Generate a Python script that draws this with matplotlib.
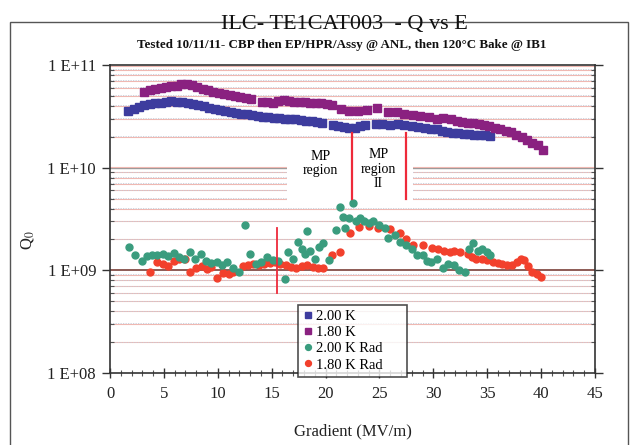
import matplotlib
matplotlib.use("Agg")
import matplotlib.pyplot as plt
from matplotlib.ticker import FixedLocator, MultipleLocator, NullFormatter
from matplotlib.patches import Rectangle
import numpy as np

# ---------------- data ----------------
E_200K = [1.7, 2.2, 2.7, 3.2, 3.7, 4.2, 4.7, 5.2, 5.7, 6.2, 6.7, 7.2, 7.7, 8.2, 8.7, 9.2, 9.7,
          10.2, 10.7, 11.2, 11.7, 12.2, 12.7, 13.2, 13.7, 14.2, 14.7, 15.2, 15.7, 16.2, 16.7,
          17.2, 17.7, 18.2, 18.7, 19.2, 19.7, 20.7, 21.2, 21.7, 22.2, 22.7, 23.2, 23.7, 24.7,
          25.2, 26.0, 26.7, 27.3, 28.0, 28.6, 29.2, 29.8, 30.3, 30.8, 31.3, 31.8, 32.3, 32.8,
          33.3, 33.8, 34.3, 34.8, 35.3]
Q_200K = [3.6, 3.75, 3.9, 4.05, 4.15, 4.25, 4.3, 4.38, 4.42, 4.4, 4.35, 4.25, 4.15, 4.05, 3.95,
          3.85, 3.75, 3.65, 3.55, 3.5, 3.42, 3.35, 3.3, 3.25, 3.2, 3.15, 3.1, 3.08, 3.05, 3.0,
          2.98, 2.95, 2.9, 2.88, 2.85, 2.8, 2.75, 2.6, 2.55, 2.5, 2.45, 2.45, 2.55, 2.6, 2.65,
          2.65, 2.62, 2.65, 2.6, 2.55, 2.5, 2.45, 2.4, 2.4, 2.3, 2.25, 2.2, 2.2, 2.15, 2.12,
          2.1, 2.1, 2.08, 2.05]  # x 1e10

E_180K = [3.2, 3.7, 4.2, 4.7, 5.2, 5.7, 6.2, 6.6, 7.1, 7.6, 8.1, 8.6, 9.1, 9.6, 10.1, 10.6,
          11.1, 11.6, 12.1, 12.6, 13.1, 14.1, 14.6, 15.1, 15.6, 16.1, 16.6, 17.1, 17.6, 18.1,
          18.6, 19.1, 19.6, 20.1, 20.6, 21.4, 22.2, 23.0, 23.8, 24.8, 25.8, 26.6, 27.3, 28.1,
          28.8, 29.6, 30.3, 30.9, 31.6, 32.2, 32.7, 33.2, 33.7, 34.2, 34.7, 35.2, 35.7, 36.2,
          36.7, 37.2, 37.7, 38.2, 38.7, 39.2, 39.7, 40.2]
Q_180K = [5.5, 5.65, 5.8, 5.95, 6.1, 6.2, 6.3, 6.6, 6.5, 6.35, 6.1, 5.9, 5.7, 5.5, 5.35, 5.2,
          5.05, 4.95, 4.85, 4.75, 4.65, 4.4, 4.4, 4.3, 4.45, 4.55, 4.5, 4.4, 4.35, 4.35, 4.3,
          4.3, 4.3, 4.2, 4.1, 3.75, 3.55, 3.6, 3.65, 3.8, 3.5, 3.45, 3.35, 3.25, 3.2, 3.1, 3.0,
          3.05, 2.95, 2.85, 2.8, 2.75, 2.72, 2.65, 2.6, 2.55, 2.45, 2.4, 2.3, 2.25, 2.1, 2.0,
          1.85, 1.75, 1.65, 1.5]  # x 1e10

E_200K_rad = [1.8, 2.3, 3.0, 3.4, 3.9, 4.4, 4.9, 5.4, 5.9, 6.4, 6.9, 7.4, 7.9, 8.4, 8.9, 9.4,
              9.9, 10.4, 10.9, 11.4, 12.0, 12.5, 13.0, 13.5, 14.0, 14.6, 15.1, 15.6, 16.2, 16.5,
              17.0, 17.4, 17.8, 18.1, 18.3, 18.6, 19.0, 19.4, 19.8, 20.3, 21.0, 21.3, 21.6, 21.8,
              22.2, 22.5, 22.8, 23.2, 23.6, 24.0, 24.4, 25.0, 25.5, 25.8, 26.4, 26.9, 27.5, 28.0,
              28.5, 29.0, 29.4, 29.8, 30.3, 30.9, 31.4, 31.9, 32.4, 32.9, 33.3, 33.7, 34.1, 34.5,
              35.0, 35.3]
Q_200K_rad = [1.69, 1.41, 1.24, 1.38, 1.42, 1.40, 1.45, 1.38, 1.48, 1.35, 1.30, 1.52, 1.30, 1.45,
              1.22, 1.18, 1.20, 1.12, 1.20, 1.05, 0.97, 2.75, 1.45, 1.15, 1.20, 1.35, 1.25, 1.22,
              0.82, 1.50, 1.30, 1.90, 1.60, 1.45, 2.40, 1.55, 1.30, 1.70, 1.85, 1.25, 2.45, 4.10,
              3.30, 2.60, 3.20, 4.55, 3.00, 3.20, 3.00, 2.90, 3.00, 2.75, 2.60, 2.07, 2.20, 1.90,
              1.75, 1.60, 1.42, 1.40, 1.22, 1.20, 1.30, 1.05, 1.15, 1.12, 1.00, 0.97, 1.60, 1.85,
              1.55, 1.60, 1.50, 1.40]  # x 1e9

E_180K_rad = [3.7, 4.4, 4.9, 5.4, 5.9, 6.4, 7.0, 7.4, 8.0, 8.5, 9.0, 9.4, 9.9, 10.5, 11.0, 11.4,
              12.3, 12.8, 13.3, 13.8, 14.3, 14.8, 15.3, 15.8, 16.3, 16.8, 17.3, 17.8, 18.3, 18.8,
              19.3, 19.8, 20.6, 21.3, 22.3, 23.1, 24.0, 24.9, 26.0, 26.9, 27.5, 28.1, 29.0, 29.9,
              30.4, 31.0, 31.5, 31.9, 32.5, 33.2, 33.6, 34.0, 34.5, 35.0, 35.5, 36.0, 36.4, 36.8,
              37.3, 37.8, 38.1, 38.4, 38.8, 39.2, 39.6, 40.0]
Q_180K_rad = [0.97, 1.20, 1.15, 1.10, 1.22, 1.30, 1.28, 0.97, 1.05, 1.10, 1.02, 1.08, 0.85, 0.94,
              0.93, 0.96, 1.10, 1.13, 1.15, 1.12, 1.15, 1.18, 1.20, 1.15, 1.12, 1.08, 1.05, 1.10,
              1.12, 1.08, 1.05, 1.06, 1.40, 1.50, 2.30, 2.65, 2.70, 2.60, 2.50, 2.30, 2.00, 1.75,
              1.75, 1.65, 1.60, 1.55, 1.50, 1.55, 1.50, 1.45, 1.35, 1.30, 1.28, 1.25, 1.20, 1.18,
              1.15, 1.13, 1.12, 1.20, 1.30, 1.25, 1.10, 0.97, 0.92, 0.87]  # x 1e9

series_labels = ["2.00 K", "1.80 K", "2.00 K Rad", "1.80 K Rad"]
x_ticks = [0, 5, 10, 15, 20, 25, 30, 35, 40, 45]
y_ticks = [1e8, 1e9, 1e10, 1e11]
y_ticklabels = ["1 E+08", "1 E+09", "1 E+10", "1 E+11"]
mp_lines = [22.45, 27.45]
mark_line = 15.5

# ---------------- figure ----------------
SERIF = ["Liberation Serif", "DejaVu Serif"]
plt.rcParams["font.family"] = SERIF
plt.rcParams["mathtext.fontset"] = "stix"

W, H = 638, 445
fig = plt.figure(figsize=(W / 100, H / 100), dpi=100)
fig.patch.set_facecolor("white")

L, R, T, B = 110, 595, 65, 373
ax = fig.add_axes([L / W, 1 - B / H, (R - L) / W, (B - T) / H])
ax.set_yscale("log")
ax.set_xlim(0, 45)
ax.set_ylim(1e8, 1e11)

# outer frame
fig.add_artist(Rectangle((10 / W, -0.01), (628 - 10) / W, (H - 22) / H + 0.01,
                         transform=fig.transFigure, fill=False, edgecolor="#555555", lw=1.0))

# gridlines
minor_vals = [m * 10 ** d for d in (8, 9, 10) for m in range(2, 10)]
for v in minor_vals:
    ax.axhline(v, color="#efb8b2", lw=0.8, zorder=1)
    ax.axhline(v * 1.012, color="#c5cedb", lw=0.6, ls=(0, (1.5, 1.5)), zorder=1)
for v in [1e9]:
    ax.axhline(v, color="#7a4038", lw=1.2, zorder=1)
for v in [1e10]:
    ax.axhline(v, color="#999999", lw=1.0, zorder=1)
    ax.axhline(v * 1.02, color="#efb8b2", lw=0.8, zorder=1)
ax.axhline(1e11 * 0.985, color="#efb8b2", lw=0.8, zorder=1)

# white box for MP region labels
ax.add_patch(Rectangle((16.4, 4.6e9), 28.1 - 16.4, 1.9e10 - 4.6e9, facecolor="white",
                       edgecolor="none", zorder=2))

# data
ms_sq = 5.2
ms_c = 5.0
ax.plot(E_200K, np.array(Q_200K) * 1e10, ls="none", marker="s", ms=ms_sq,
        color="#3d3c9e", mec="#3d3c9e", zorder=4, label=series_labels[0])
ax.plot(E_180K, np.array(Q_180K) * 1e10, ls="none", marker="s", ms=ms_sq,
        color="#8a2180", mec="#8a2180", zorder=4, label=series_labels[1])
ax.plot(E_200K_rad, np.array(Q_200K_rad) * 1e9, ls="none", marker="o", ms=ms_c,
        color="#3a9c7e", mec="#3a9c7e", zorder=4, label=series_labels[2])
ax.plot(E_180K_rad, np.array(Q_180K_rad) * 1e9, ls="none", marker="o", ms=ms_c,
        color="#f2402c", mec="#f2402c", zorder=3, label=series_labels[3])

# red vertical markers
for xv in mp_lines:
    ax.plot([xv, xv], [5.0e9, 2.18e10], color="#ee2a3a", lw=1.6, zorder=5)
ax.plot([mark_line, mark_line], [6.0e8, 2.6e9], color="#ee2a3a", lw=1.3, zorder=5)

ax.text(19.5, 1.1e10, "MP\nregion", ha="center", va="center", fontsize=10,
        linespacing=1.15, zorder=6)
ax.text(24.9, 9.6e9, "MP\nregion\nII", ha="center", va="center", fontsize=10,
        linespacing=1.15, zorder=6)

# axes styling
for s in ax.spines.values():
    s.set_color("#333333")
    s.set_linewidth(1.2)
ax.xaxis.set_major_locator(FixedLocator(x_ticks))
ax.xaxis.set_minor_locator(MultipleLocator(1))
ax.set_xticklabels([str(v) for v in x_ticks])
ax.yaxis.set_major_locator(FixedLocator(y_ticks))
ax.set_yticklabels(y_ticklabels)
ax.yaxis.set_minor_locator(FixedLocator(minor_vals))
ax.yaxis.set_minor_formatter(NullFormatter())
ax.tick_params(axis="y", which="major", direction="out", length=6, width=1.0,
               labelsize=12, pad=4, right=True, colors="#333333", labelcolor="#222222")
ax.tick_params(axis="y", which="minor", direction="in", length=3, width=0.8,
               right=True, colors="#555555")
ax.tick_params(axis="x", which="major", direction="inout", length=7, width=1.0,
               labelsize=12, pad=6, colors="#333333", labelcolor="#222222")
ax.tick_params(axis="x", which="minor", direction="inout", length=4, width=0.8,
               colors="#555555")

ax.set_xlabel("Gradient (MV/m)", fontsize=12, labelpad=15, color="#222222")
fig.text(28 / W, 1 - 240 / H, r"Q$_0$", rotation=90, ha="center", va="center",
         fontsize=12, color="#222222")

fig.text(344 / W, 1 - 24 / H, "ILC- TE1CAT003  - Q vs E", ha="center", va="center",
         fontsize=16, color="#111111")
fig.text(342 / W, 1 - 45 / H,
         "Tested 10/11/11- CBP then EP/HPR/Assy @ ANL, then 120\u00b0C Bake @ IB1",
         ha="center", va="center", fontsize=9.4, fontweight="bold", color="#111111")

leg = ax.legend(loc="lower left", bbox_to_anchor=(0.388, -0.012, 0.225, 0.27),
                mode="expand", fontsize=10.5, frameon=True, fancybox=False,
                borderpad=0.35, labelspacing=0.2, handlelength=0.6, handletextpad=0.3,
                borderaxespad=0, markerscale=0.85)
leg.get_frame().set_edgecolor("#222222")
leg.get_frame().set_linewidth(1.2)
leg.set_zorder(10)

fig.savefig("out.png", dpi=100)
